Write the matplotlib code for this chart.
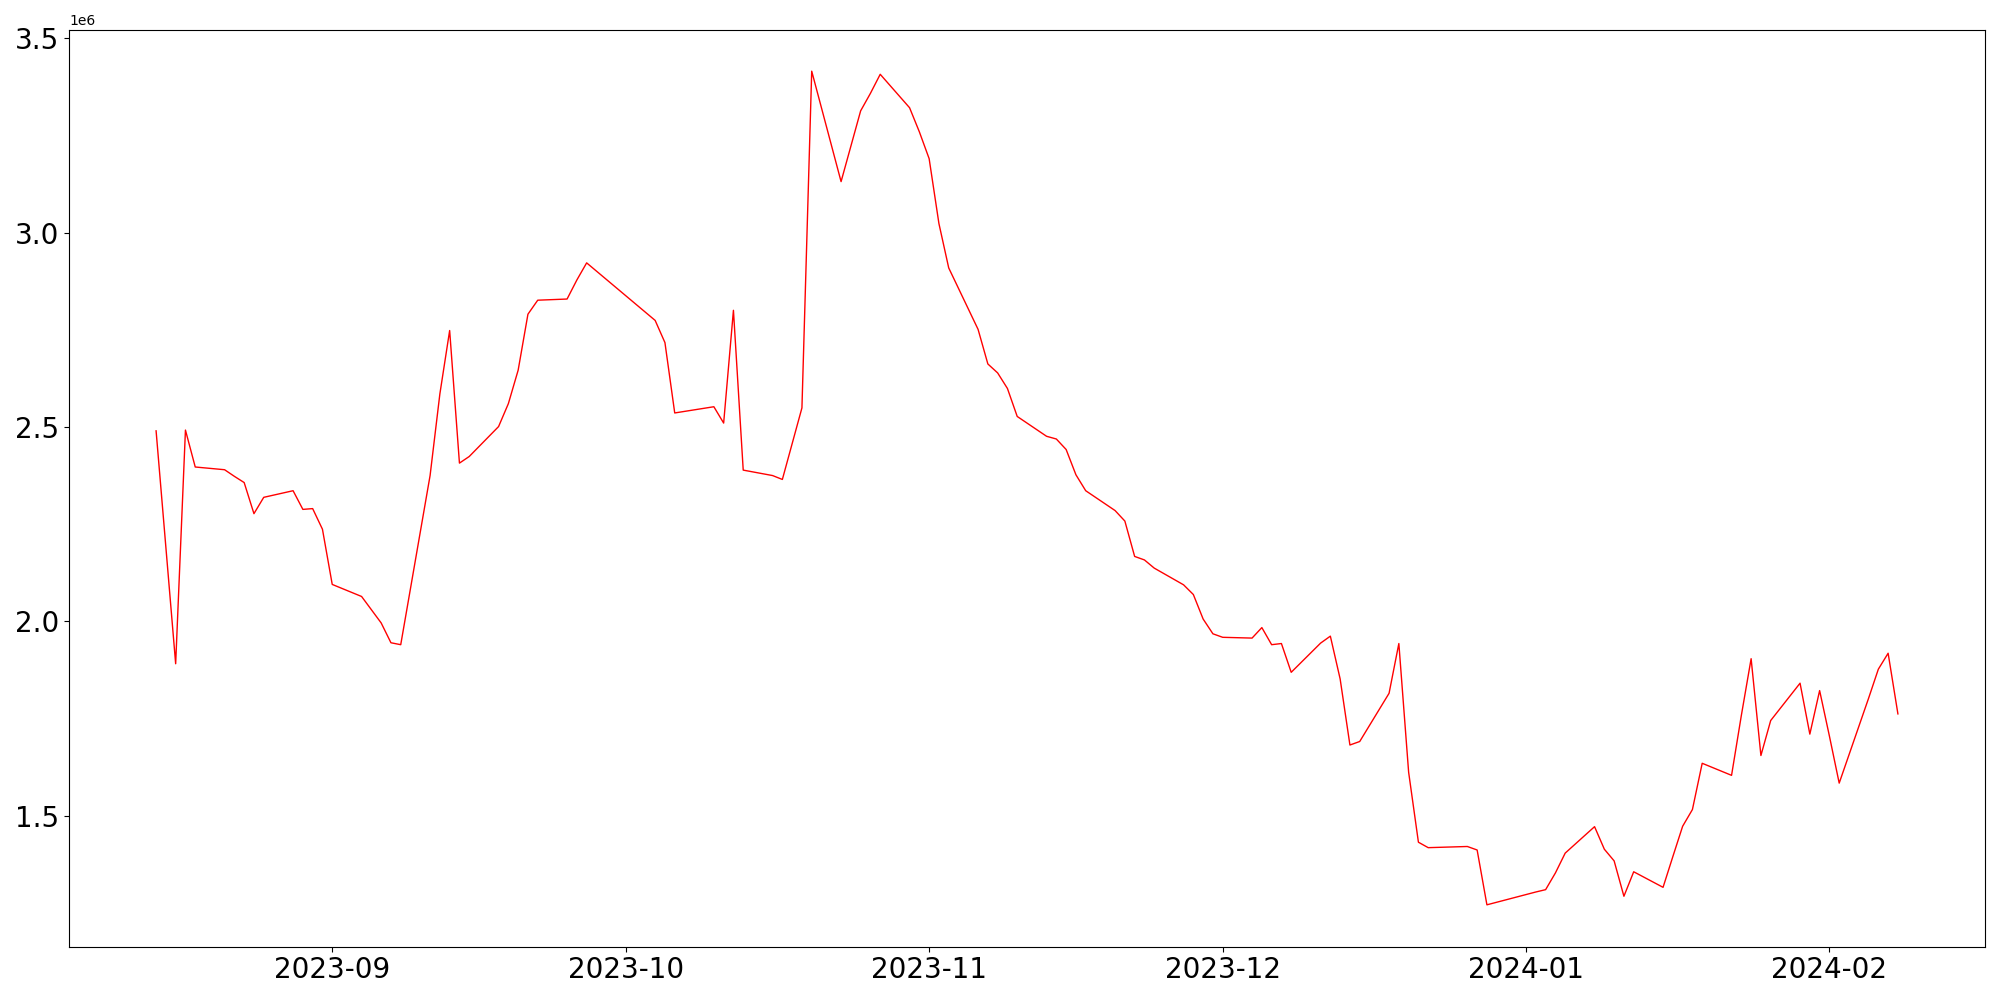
import matplotlib
matplotlib.use("Agg")
import matplotlib.pyplot as plt
import pandas as pd

dates = [
    "2023-08-14", "2023-08-16", "2023-08-17", "2023-08-18", "2023-08-21", "2023-08-22",
    "2023-08-23", "2023-08-24", "2023-08-25", "2023-08-28", "2023-08-29", "2023-08-30",
    "2023-08-31", "2023-09-01", "2023-09-04", "2023-09-05", "2023-09-06", "2023-09-07",
    "2023-09-08", "2023-09-11", "2023-09-12", "2023-09-13", "2023-09-14", "2023-09-15",
    "2023-09-18", "2023-09-19", "2023-09-20", "2023-09-21", "2023-09-22", "2023-09-25",
    "2023-09-26", "2023-09-27", "2023-10-04", "2023-10-05", "2023-10-06", "2023-10-10",
    "2023-10-11", "2023-10-12", "2023-10-13", "2023-10-16", "2023-10-17", "2023-10-18",
    "2023-10-19", "2023-10-20", "2023-10-23", "2023-10-24", "2023-10-25", "2023-10-26",
    "2023-10-27", "2023-10-30", "2023-10-31", "2023-11-01", "2023-11-02", "2023-11-03",
    "2023-11-06", "2023-11-07", "2023-11-08", "2023-11-09", "2023-11-10", "2023-11-13",
    "2023-11-14", "2023-11-15", "2023-11-16", "2023-11-17", "2023-11-20", "2023-11-21",
    "2023-11-22", "2023-11-23", "2023-11-24", "2023-11-27", "2023-11-28", "2023-11-29",
    "2023-11-30", "2023-12-01", "2023-12-04", "2023-12-05", "2023-12-06", "2023-12-07",
    "2023-12-08", "2023-12-11", "2023-12-12", "2023-12-13", "2023-12-14", "2023-12-15",
    "2023-12-18", "2023-12-19", "2023-12-20", "2023-12-21", "2023-12-22", "2023-12-26",
    "2023-12-27", "2023-12-28", "2024-01-02", "2024-01-03", "2024-01-04", "2024-01-05",
    "2024-01-08", "2024-01-09", "2024-01-10", "2024-01-11", "2024-01-12", "2024-01-15",
    "2024-01-16", "2024-01-17", "2024-01-18", "2024-01-19", "2024-01-22", "2024-01-23",
    "2024-01-24", "2024-01-25", "2024-01-26", "2024-01-29", "2024-01-30", "2024-01-31",
    "2024-02-01", "2024-02-02", "2024-02-05", "2024-02-06", "2024-02-07", "2024-02-08",
]

values = [
    2490000, 1891000, 2492000, 2397000, 2390000, 2373000,
    2357000, 2277000, 2319000, 2336000, 2288000, 2290000,
    2237000, 2095000, 2064000, 2030000, 1996000, 1945000,
    1940000, 2375000, 2585000, 2748000, 2407000, 2424000,
    2501000, 2560000, 2646000, 2790000, 2826000, 2829000,
    2878000, 2922000, 2774000, 2717000, 2536000, 2552000,
    2510000, 2800000, 2389000, 2375000, 2365000, 2457000,
    2549000, 3415000, 3131000, 3222000, 3313000, 3358000,
    3407000, 3321000, 3259000, 3190000, 3023000, 2909000,
    2751000, 2662000, 2639000, 2599000, 2527000, 2476000,
    2469000, 2442000, 2377000, 2336000, 2285000, 2258000,
    2167000, 2158000, 2137000, 2094000, 2069000, 2006000,
    1968000, 1959000, 1957000, 1984000, 1940000, 1943000,
    1869000, 1944000, 1962000, 1852000, 1682000, 1691000,
    1815000, 1943000, 1612000, 1432000, 1418000, 1421000,
    1412000, 1271000, 1304000, 1310000, 1353000, 1404000,
    1472000, 1414000, 1384000, 1293000, 1356000, 1316000,
    1395000, 1473000, 1516000, 1635000, 1604000, 1758000,
    1904000, 1655000, 1745000, 1841000, 1710000, 1822000,
    1705000, 1584000, 1802000, 1877000, 1918000, 1762000,
]

x = pd.to_datetime(dates)

fig = plt.figure(figsize=(20, 10), dpi=100)
ax = fig.add_axes([0.0345, 0.0535, 0.958, 0.917])
ax.plot(x, values, color="red", linewidth=1.0)
ax.tick_params(axis="both", labelsize=20)
fig.savefig("out.png", dpi=100)
